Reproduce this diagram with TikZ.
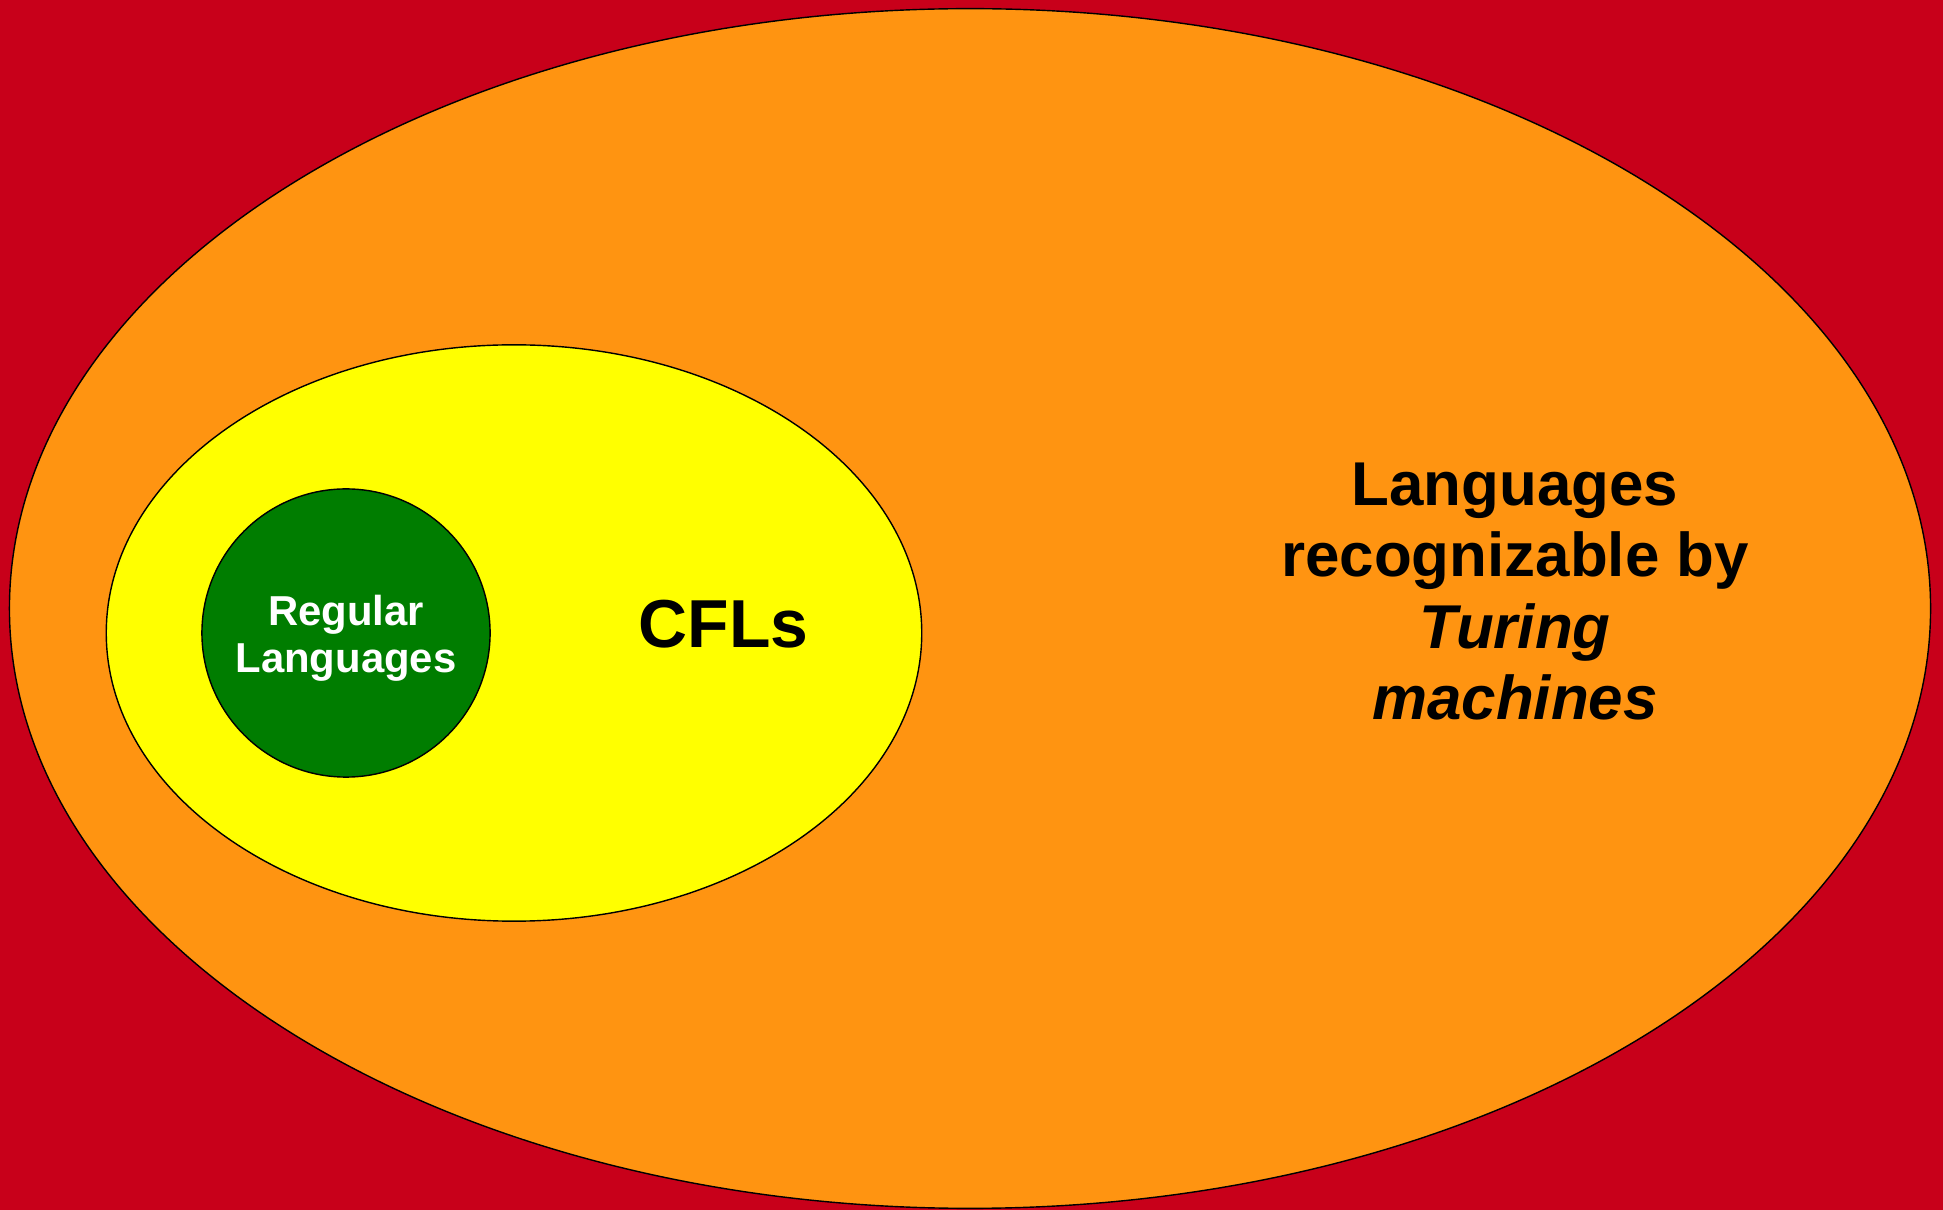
\documentclass[tikz,border=0pt]{standalone}
\usepackage{fontspec}
\setmainfont{Liberation Sans}
\usepackage{tikz}
\usetikzlibrary{
        shapes.geometric
    }
\definecolor{outside}{RGB}{200,0,26}
\definecolor{tmcolor}{RGB}{255,148,17}
\definecolor{cflcolor}{RGB}{255,255,0}
\definecolor{regcolor}{RGB}{0,125,0}
\tikzset{langset/.style={ellipse,draw=black,line width=0.4pt,inner sep=0pt}}
\tikzset{settext/.style={align=center,inner sep=0pt}}

\begin{document}
\begin{tikzpicture}[x=0.01cm,y=-0.01cm]
    \fill[outside] (0,0) rectangle (1943,1210);
    \useasboundingbox (0,0) rectangle (1943,1210);
    % nested sets
    \node[langset,fill=tmcolor,minimum width=19.2cm,minimum height=11.99cm] (tm) at (970,608.5) {};
    \node[langset,fill=cflcolor,minimum width=8.15cm,minimum height=5.76cm] (cfl) at (514,633) {};
    \node[langset,fill=regcolor,minimum width=2.88cm,minimum height=2.88cm] (reg) at (346,633) {};
    % labels
    \node[settext,text=white,font=\bfseries\fontsize{11.9}{13.4}\selectfont] (reglabel) at (346,638) {Regular\\Languages};
    \node[settext,font=\bfseries\fontsize{19.3}{23}\selectfont] (cfllabel) at (723.5,624.5) {CFLs};
    \node[settext,font=\bfseries\fontsize{17.6}{20.3}\selectfont] (tmlabel) at (1515,591.4)
        {Languages\\recognizable by\\\textit{Turing}\\\textit{machines}};
\end{tikzpicture}
\end{document}
